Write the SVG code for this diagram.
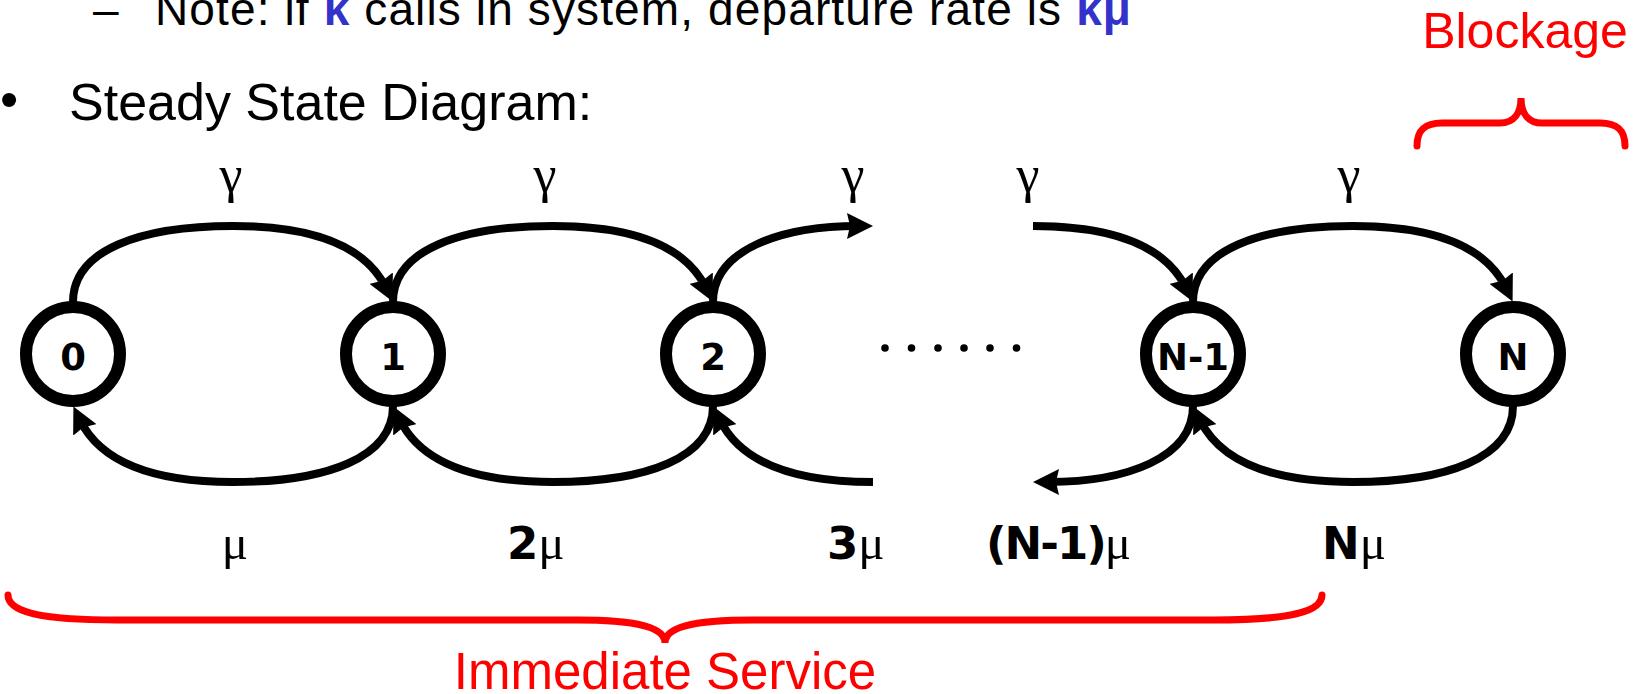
<svg xmlns="http://www.w3.org/2000/svg" width="1638" height="694" viewBox="0 0 1638 694">
<style>
.txt{font-family:"Liberation Sans",Arial,sans-serif;fill:#000}
.red{font-family:"Liberation Sans",Arial,sans-serif;fill:#ff0000}
.gam{font-family:"Liberation Serif","Times New Roman",serif;font-size:52px;fill:#000;text-anchor:middle}
.rate{font-family:"DejaVu Sans",Verdana,sans-serif;font-weight:bold;font-size:45px;fill:#000}
.mu{font-family:"Liberation Serif","Times New Roman",serif;font-weight:normal;font-size:49px}
.ring{fill:#fff;stroke:#000;stroke-width:12}
.nlab{font-family:"DejaVu Sans",Verdana,sans-serif;font-weight:bold;font-size:37px;fill:#000;text-anchor:middle}
.edge{fill:none;stroke:#000;stroke-width:8}
.brace{fill:none;stroke:#ff0000;stroke-width:7;stroke-linecap:round}
</style>
<defs>
<marker id="ah" markerUnits="userSpaceOnUse" markerWidth="26" markerHeight="26" viewBox="0 0 26 26" refX="11" refY="13" orient="auto">
<path d="M0,0 L26,13 L0,26 L3,13 z" fill="#000"/>
</marker>
</defs>

<g id="header">
<text class="txt" x="93" y="25" font-size="46">–</text>
<text class="txt" x="155" y="25" font-size="46" textLength="976" lengthAdjust="spacing">Note: if <tspan font-weight="bold" fill="#3333cc">k</tspan> calls in system, departure rate is <tspan font-weight="bold" fill="#3333cc">kμ</tspan></text>
<text class="txt" x="0" y="117" font-size="52">•</text>
<text class="txt" x="69" y="120" font-size="52">Steady State Diagram:</text>
</g>

<g id="connectors">
<path class="edge" d="M73,302 C73,250 140,226 233,226 C310,226 365,245 386,288" marker-end="url(#ah)"/>
<path class="edge" d="M393,302 C393,250 460,226 553,226 C630,226 685,245 706,288" marker-end="url(#ah)"/>
<path class="edge" d="M713,302 C713,250 780,226 858,226" marker-end="url(#ah)"/>
<path class="edge" d="M1033,226 C1110,226 1165,245 1186,288" marker-end="url(#ah)"/>
<path class="edge" d="M1193,302 C1193,250 1260,226 1353,226 C1430,226 1485,245 1506,288" marker-end="url(#ah)"/>

<path class="edge" d="M393,406 C393,458 326,482 233,482 C156,482 101,463 80,420" marker-end="url(#ah)"/>
<path class="edge" d="M713,406 C713,458 646,482 553,482 C476,482 421,463 400,420" marker-end="url(#ah)"/>
<path class="edge" d="M873,482 C796,482 741,463 720,420" marker-end="url(#ah)"/>
<path class="edge" d="M1193,406 C1193,458 1126,482 1048,482" marker-end="url(#ah)"/>
<path class="edge" d="M1513,406 C1513,458 1446,482 1353,482 C1276,482 1221,463 1200,420" marker-end="url(#ah)"/>
</g>

<g id="node-0"><circle class="ring" cx="73" cy="354" r="47"/><text class="nlab" x="73" y="370">0</text></g>
<g id="node-1"><circle class="ring" cx="393" cy="354" r="47"/><text class="nlab" x="393" y="370">1</text></g>
<g id="node-2"><circle class="ring" cx="713" cy="354" r="47"/><text class="nlab" x="713" y="370">2</text></g>
<g id="node-n1"><circle class="ring" cx="1193" cy="354" r="47"/><text class="nlab" x="1193" y="370">N-1</text></g>
<g id="node-n"><circle class="ring" cx="1513" cy="354" r="47"/><text class="nlab" x="1513" y="370">N</text></g>

<g id="ellipsis" fill="#000">
<circle cx="885" cy="348" r="3.8"/><circle cx="911.5" cy="348" r="3.8"/><circle cx="938" cy="348" r="3.8"/>
<circle cx="964" cy="348" r="3.8"/><circle cx="990" cy="348" r="3.8"/><circle cx="1016.5" cy="348" r="3.8"/>
</g>

<g id="labels">
<text class="gam" x="231" y="192">γ</text>
<text class="gam" x="545" y="192">γ</text>
<text class="gam" x="853" y="192">γ</text>
<text class="gam" x="1028" y="192">γ</text>
<text class="gam" x="1349" y="192">γ</text>

<text class="rate" x="235" y="559" text-anchor="middle"><tspan class="mu">μ</tspan></text>
<text class="rate" x="507" y="559">2<tspan class="mu">μ</tspan></text>
<text class="rate" x="827" y="559">3<tspan class="mu">μ</tspan></text>
<text class="rate" x="986" y="559" letter-spacing="-2">(N-1)<tspan class="mu" letter-spacing="0">μ</tspan></text>
<text class="rate" x="1322" y="559">N<tspan class="mu">μ</tspan></text>
</g>

<g id="blockage">
<path class="brace" d="M1417,146 C1417,130 1425,123 1442,123 L1500,123 C1514,123 1521,113 1521,98 C1521,113 1528,123 1542,123 L1600,123 C1617,123 1625,130 1625,146"/>
<text class="red" x="1525" y="48" font-size="50" text-anchor="middle">Blockage</text>
</g>

<g id="immediate-service">
<path class="brace" d="M8,595 C8,612 40,620 117,620 L577,620 C640,620 665,628 665,643 C665,628 690,620 753,620 L1213,620 C1290,620 1322,612 1322,595"/>
<text class="red" x="665" y="689" font-size="51" text-anchor="middle">Immediate Service</text>
</g>
</svg>
